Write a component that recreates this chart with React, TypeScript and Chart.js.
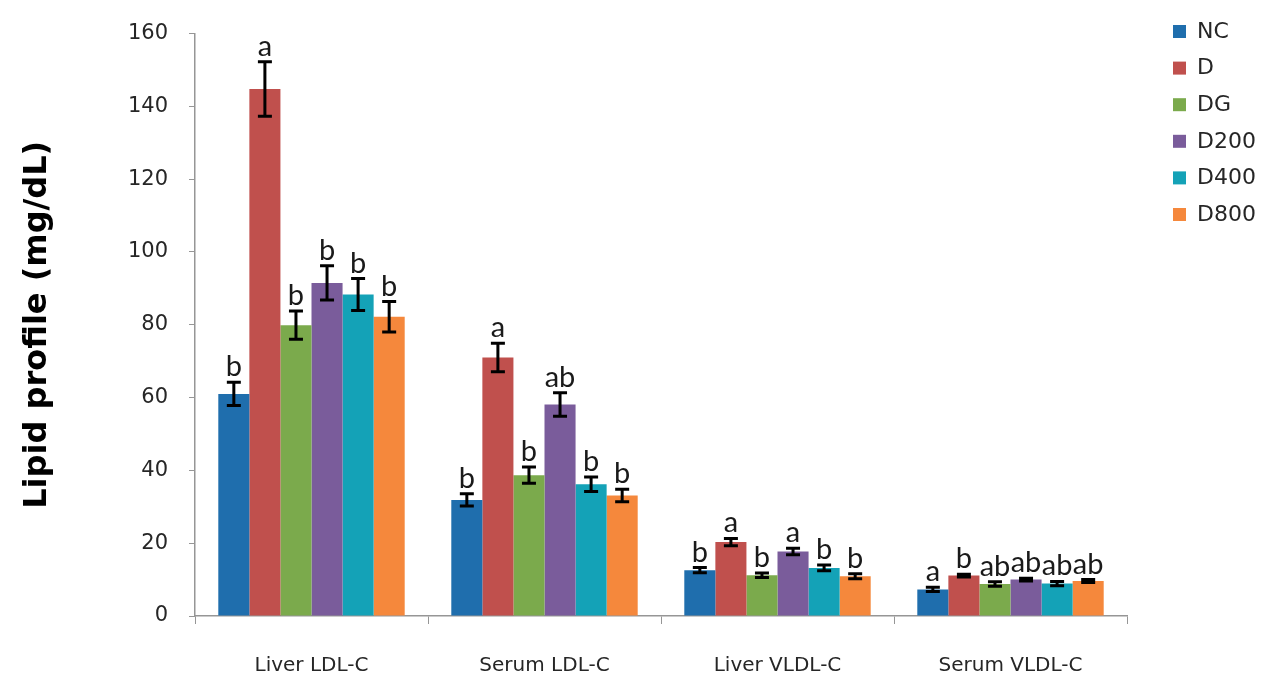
import React, { useEffect, useRef } from "react";
import { Chart, registerables } from "chart.js";

Chart.register(...registerables);

const categories = ["Liver LDL-C", "Serum LDL-C", "Liver VLDL-C", "Serum VLDL-C"];
const groupNames = ["NC", "D", "DG", "D200", "D400", "D800"];
const groupColors = ["#1F6EAD", "#C0504D", "#7BAA4C", "#7A5C9B", "#14A2B7", "#F5883C"];

const ncValues = [61.0, 31.9, 12.6, 7.3];
const dValues = [144.8, 71.0, 20.3, 11.1];
const dgValues = [79.9, 38.7, 11.2, 8.8];
const d200Values = [91.5, 58.1, 17.7, 10.0];
const d400Values = [88.3, 36.2, 13.2, 8.9];
const d800Values = [82.2, 33.1, 10.9, 9.6];

const ncErrors = [3.2, 1.7, 0.7, 0.6];
const dErrors = [7.5, 3.9, 1.0, 0.4];
const dgErrors = [3.9, 2.2, 0.6, 0.6];
const d200Errors = [4.7, 3.2, 0.9, 0.4];
const d400Errors = [4.4, 2.0, 0.8, 0.6];
const d800Errors = [4.2, 1.7, 0.7, 0.4];

const ncLetters = ["b", "b", "b", "a"];
const dLetters = ["a", "a", "a", "b"];
const dgLetters = ["b", "b", "b", "ab"];
const d200Letters = ["b", "ab", "a", "ab"];
const d400Letters = ["b", "b", "b", "ab"];
const d800Letters = ["b", "b", "b", "ab"];

const yTicks = [0, 20, 40, 60, 80, 100, 120, 140, 160];

const allValues = [ncValues, dValues, dgValues, d200Values, d400Values, d800Values];
const allErrors = [ncErrors, dErrors, dgErrors, d200Errors, d400Errors, d800Errors];
const allLetters = [ncLetters, dLetters, dgLetters, d200Letters, d400Letters, d800Letters];

const FONT = "'DejaVu Sans', sans-serif";
const LETTER_FONT = "Lato, 'DejaVu Sans', sans-serif";

const errorBarPlugin = {
  id: "errorBars",
  afterDatasetsDraw(chart: any) {
    const ctx = chart.ctx;
    const y = chart.scales.y;
    ctx.save();
    chart.data.datasets.forEach((ds: any, i: number) => {
      const meta = chart.getDatasetMeta(i);
      meta.data.forEach((el: any, j: number) => {
        const v = ds.data[j];
        const e = ds.errors[j];
        const top = y.getPixelForValue(v + e);
        const bot = y.getPixelForValue(v - e);
        const x = el.x;
        ctx.strokeStyle = "#000";
        ctx.lineWidth = 3;
        ctx.beginPath();
        ctx.moveTo(x, top);
        ctx.lineTo(x, bot);
        ctx.moveTo(x - 7, top);
        ctx.lineTo(x + 7, top);
        ctx.moveTo(x - 7, bot);
        ctx.lineTo(x + 7, bot);
        ctx.stroke();
        ctx.fillStyle = "#1a1a1a";
        ctx.font = `29px ${LETTER_FONT}`;
        ctx.textAlign = "center";
        ctx.textBaseline = "alphabetic";
        ctx.fillText(ds.letters[j], x, top - 6);
      });
    });
    ctx.restore();
  },
};

const legendPlugin = {
  id: "customLegend",
  afterDraw(chart: any) {
    const ctx = chart.ctx;
    ctx.save();
    chart.data.datasets.forEach((ds: any, i: number) => {
      const cy = 31 + i * 36.6;
      ctx.fillStyle = ds.backgroundColor;
      ctx.fillRect(1173, cy - 6, 13, 13);
      ctx.fillStyle = "#262626";
      ctx.font = `22px ${FONT}`;
      ctx.textAlign = "left";
      ctx.textBaseline = "middle";
      ctx.fillText(ds.label, 1197, cy + 1);
    });
    ctx.restore();
  },
};

export default function App() {
  const ref = useRef<HTMLCanvasElement | null>(null);
  useEffect(() => {
    document.body.style.margin = "0";
    const canvas = ref.current;
    if (!canvas) return;
    const chart = new Chart(canvas, {
      type: "bar",
      data: {
        labels: categories,
        datasets: groupNames.map((name, i) => ({
          label: name,
          data: allValues[i],
          errors: allErrors[i],
          letters: allLetters[i],
          backgroundColor: groupColors[i],
          borderWidth: 0,
          barPercentage: 1.0,
          categoryPercentage: 0.8,
        })) as any,
      },
      options: {
        animation: false,
        responsive: false,
        events: [],
        layout: { padding: { top: 30, right: 136, left: 0, bottom: 0 } },
        plugins: {
          legend: { display: false },
          tooltip: { enabled: false },
        },
        scales: {
          x: {
            grid: {
              offset: true,
              drawOnChartArea: false,
              drawTicks: true,
              tickLength: 8,
              color: "#969696",
            },
            border: { color: "#969696", width: 1.5 },
            ticks: {
              color: "#262626",
              font: { family: FONT, size: 20 },
              padding: 30,
            },
            afterFit: (scale: any) => {
              scale.height = 59;
            },
          },
          y: {
            min: 0,
            max: 160,
            afterBuildTicks: (scale: any) => {
              scale.ticks = yTicks.map((v) => ({ value: v }));
            },
            grid: {
              drawOnChartArea: false,
              drawTicks: true,
              tickLength: 6,
              color: "#969696",
            },
            border: { color: "#969696", width: 1.5 },
            ticks: {
              color: "#262626",
              font: { family: FONT, size: 21 },
              padding: 21,
            },
            title: {
              display: true,
              text: "Lipid profile (mg/dL)",
              color: "#000",
              font: { family: FONT, size: 32, weight: "bold" },
              padding: { top: 18, bottom: 0 },
            },
            afterFit: (scale: any) => {
              scale.width = 195;
            },
          },
        },
      },
      plugins: [errorBarPlugin, legendPlugin],
    });
    return () => chart.destroy();
  }, []);
  return <canvas ref={ref} width={1263} height={675} style={{ display: "block" }} />;
}
